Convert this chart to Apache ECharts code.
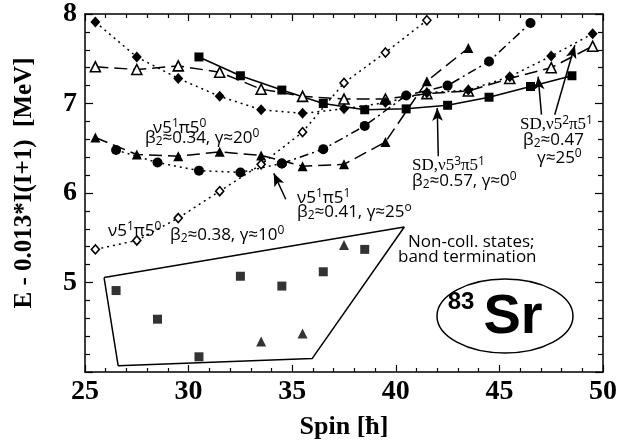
<!DOCTYPE html>
<html>
<head>
<meta charset="utf-8">
<script src="https://cdn.jsdelivr.net/npm/echarts@6/dist/echarts.min.js"></script>
<style>
html, body { margin: 0; padding: 0; background: #fff; }
#chart { width: 631px; height: 445px; }
</style>
</head>
<body>
<div id="chart"></div>
<script>
// values: spin (hbar) / E - 0.013*I(I+1) (MeV)
const sdSpins = [30.5, 32.5, 34.5, 36.5, 38.5, 40.5, 42.5, 44.5, 46.5, 48.5]
const sdEnergy = [7.52, 7.31, 7.15, 7.00, 6.93, 6.94, 6.98, 7.07, 7.19, 7.31]

const openTriSpins = [25.5, 27.5, 29.5, 31.5, 33.5, 35.5, 37.5, 39.5, 41.5, 43.5, 45.5, 47.5, 49.5]
const openTriEnergy = [7.41, 7.38, 7.42, 7.35, 7.16, 7.08, 7.05, 7.05, 7.11, 7.14, 7.28, 7.40, 7.64]

const diamondSpins = [25.5, 27.5, 29.5, 31.5, 33.5, 35.5, 37.5, 39.5, 41.5, 43.5, 45.5, 47.5, 49.5]
const diamondEnergy = [7.91, 7.52, 7.28, 7.08, 6.93, 6.89, 6.94, 7.01, 7.12, 7.15, 7.30, 7.53, 7.78]

const openDiamondSpins = [25.5, 27.5, 29.5, 31.5, 33.5, 35.5, 37.5, 39.5, 41.5]
const openDiamondEnergy = [5.37, 5.47, 5.72, 6.02, 6.32, 6.68, 7.23, 7.57, 7.93]

const filledTriSpins = [25.5, 27.5, 29.5, 31.5, 33.5, 35.5, 37.5, 39.5, 41.5, 43.5]
const filledTriEnergy = [6.62, 6.43, 6.41, 6.46, 6.42, 6.30, 6.32, 6.57, 7.25, 7.62]

const circleLowSpins = [26.5, 28.5, 30.5, 32.5, 34.5]
const circleLowEnergy = [6.48, 6.34, 6.25, 6.23, 6.33]
const circleUpSpins = [34.5, 36.5, 38.5, 40.5, 42.5, 44.5, 46.5]
const circleUpEnergy = [6.33, 6.49, 6.75, 7.09, 7.20, 7.47, 7.90]

// non-collective states
const nonCollSquareSpins = [26.5, 28.5, 30.5, 32.5, 34.5, 36.5, 38.5]
const nonCollSquareEnergy = [4.91, 4.59, 4.17, 5.07, 4.96, 5.12, 5.37]
const nonCollTriSpins = [33.5, 35.5, 37.5]
const nonCollTriEnergy = [4.34, 4.43, 5.42]

const xTicks = [25, 30, 35, 40, 45, 50]
const yTickLabels = [5, 6, 7, 8]

const zip = (xs, ys) => xs.map((x, i) => [x, ys[i]])

const SERIF = '"Liberation Serif", "DejaVu Serif", serif'
const SANS = '"Open Sans", "DejaVu Sans", sans-serif'

const chart = echarts.init(document.getElementById('chart'))

function band(data, symbol, size, open, dash) {
  return {
    type: 'line',
    data: data,
    symbol: symbol,
    symbolSize: size,
    showSymbol: true,
    animation: false,
    lineStyle: { color: '#000', width: 1.5, type: dash },
    itemStyle: open
      ? { color: '#fff', borderColor: '#000', borderWidth: 1.6 }
      : { color: '#000', borderColor: '#000', borderWidth: 0 },
    z: 3,
  }
}

function points(data, symbol, size) {
  return {
    type: 'scatter',
    data: data,
    symbol: symbol,
    symbolSize: size,
    animation: false,
    itemStyle: { color: '#000' },
    z: 3,
  }
}

const rich = {
  n: { fontSize: 17, fontFamily: SANS, lineHeight: 20, fill: '#000', color: '#000' },
  s: { fontSize: 17, fontFamily: SERIF, lineHeight: 20, fill: '#000', color: '#000' },
  p: { fontSize: 12, fontFamily: SANS, lineHeight: 8, verticalAlign: 'top', fill: '#000', color: '#000' },
  b: { fontSize: 12, fontFamily: SANS, lineHeight: 8, verticalAlign: 'bottom', fill: '#000', color: '#000' },
}

function note(x, y, text) {
  return {
    type: 'text',
    x: x,
    y: y,
    z: 10,
    style: { text: text, rich: rich, fill: '#000', align: 'left', verticalAlign: 'top', textAlign: 'left', textVerticalAlign: 'top' },
  }
}

const axisCommon = {
  axisLine: { show: true, onZero: false, lineStyle: { color: '#000', width: 1.5 } },
  splitLine: { show: false },
}

const option = {
  animation: false,
  backgroundColor: '#fff',
  grid: { left: 85, right: 28, top: 14, bottom: 72, containLabel: false },
  xAxis: [
    Object.assign({}, axisCommon, {
      type: 'value', min: 25, max: 50, interval: 5, position: 'bottom',
      axisTick: { inside: true, length: 7, lineStyle: { color: '#000', width: 1.2 } },
      minorTick: { show: true, splitNumber: 5, length: 4, lineStyle: { color: '#000', width: 1.2 } },
      axisLabel: {
        color: '#000', fontFamily: SERIF, fontWeight: 'bold', fontSize: 28, margin: 6,
        formatter: v => (xTicks.includes(v) ? String(v) : ''),
      },
      name: 'Spin [ħ]', nameLocation: 'middle', nameGap: 42,
      nameTextStyle: { color: '#000', fontFamily: SERIF, fontWeight: 'bold', fontSize: 26 },
    }),
    Object.assign({}, axisCommon, {
      type: 'value', min: 25, max: 50, interval: 5, position: 'top',
      axisTick: { inside: true, length: 7, lineStyle: { color: '#000', width: 1.2 } },
      minorTick: { show: true, splitNumber: 5, length: 4, lineStyle: { color: '#000', width: 1.2 } },
      axisLabel: { show: false },
    }),
  ],
  yAxis: [
    Object.assign({}, axisCommon, {
      type: 'value', min: 4, max: 8, interval: 1, position: 'left',
      axisTick: { inside: true, length: 8, lineStyle: { color: '#000', width: 1.2 } },
      minorTick: { show: true, splitNumber: 5, length: 5, lineStyle: { color: '#000', width: 1.2 } },
      axisLabel: {
        color: '#000', fontFamily: SERIF, fontWeight: 'bold', fontSize: 28, margin: 8,
        padding: [8, 0, 0, 0],
        formatter: v => (yTickLabels.includes(v) ? String(v) : ''),
      },
      name: 'E - 0.013*I(I+1)  [MeV]', nameLocation: 'middle', nameGap: 48, nameRotate: 90,
      nameTextStyle: { color: '#000', fontFamily: SERIF, fontWeight: 'bold', fontSize: 25, padding: [0, 0, 0, 20] },
    }),
    Object.assign({}, axisCommon, {
      type: 'value', min: 4, max: 8, interval: 1, position: 'right',
      axisTick: { inside: true, length: 8, lineStyle: { color: '#000', width: 1.2 } },
      minorTick: { show: true, splitNumber: 5, length: 5, lineStyle: { color: '#000', width: 1.2 } },
      axisLabel: { show: false },
    }),
  ],
  series: [
    band(zip(sdSpins, sdEnergy), 'rect', 9, false, 'solid'),
    band(zip(openTriSpins, openTriEnergy), 'triangle', 10, true, [13, 6]),
    band(zip(diamondSpins, diamondEnergy), 'diamond', [10, 11], false, [2, 4]),
    band(zip(openDiamondSpins, openDiamondEnergy), 'diamond', [8, 9], true, [2, 4]),
    band(zip(filledTriSpins, filledTriEnergy), 'triangle', 10, false, [13, 6]),
    band(zip(circleLowSpins, circleLowEnergy), 'circle', 10, false, [2, 4]),
    band(zip(circleUpSpins, circleUpEnergy), 'circle', 10, false, [9, 4, 2, 4]),
    points(zip(nonCollSquareSpins, nonCollSquareEnergy), 'rect', 9),
    points(zip(nonCollTriSpins, nonCollTriEnergy), 'triangle', 10),
    {
      // termination region outline and arrows
      type: 'line',
      data: [[25.92, 5.055], [26.6, 4.07], [35.96, 4.15], [40.41, 5.62], [25.92, 5.055]],
      symbol: 'none',
      animation: false,
      lineStyle: { color: '#000', width: 1.5 },
      z: 2,
      markLine: {
        silent: true,
        animation: false,
        symbol: ['none', 'arrow'],
        symbolSize: [8, 13],
        label: { show: false },
        lineStyle: { color: '#000', width: 1.5, type: 'solid' },
        data: [
          [{ coord: [34.69, 5.93] }, { coord: [34.11, 6.22] }],
          [{ coord: [42.05, 6.41] }, { coord: [42.0, 6.95] }],
          [{ coord: [47.03, 6.875] }, { coord: [46.87, 7.30] }],
          [{ coord: [47.67, 6.875] }, { coord: [48.64, 7.65] }],
        ],
      },
    },
  ],
  graphic: [
    note(153, 118, '{n|ν5}{p|1}{n|π5}{p|0}'),
    note(145, 128, '{n|β}{b|2}{n|≈0.34, γ≈20}{p|0}'),
    note(108, 221, '{n|ν5}{p|1}{n|π5}{p|0}'),
    note(170, 225, '{n|β}{b|2}{n|≈0.38, γ≈10}{p|0}'),
    note(297, 188, '{n|ν5}{p|1}{n|π5}{p|1}'),
    note(297, 202, '{n|β}{b|2}{n|≈0.41, γ≈25}{p|o}'),
    note(412, 156, '{s|SD,ν5}{p|3}{s|π5}{p|1}'),
    note(412, 171, '{n|β}{b|2}{n|≈0.57, γ≈0}{p|0}'),
    note(520, 115, '{s|SD,ν5}{p|2}{s|π5}{p|1}'),
    note(523, 130, '{n|β}{b|2}{n|≈0.47}'),
    note(537, 148, '{n|γ≈25}{p|0}'),
    note(408, 232, '{n|Non-coll. states;}'),
    note(398, 247, '{n|band termination}'),
    {
      type: 'ellipse',
      shape: { cx: 505, cy: 316, rx: 68, ry: 37 },
      style: { fill: 'none', stroke: '#000', lineWidth: 1.5 },
      z: 10,
    },
    {
      type: 'text', x: 461, y: 302, z: 10,
      style: { text: '83', font: 'bold 24px "Liberation Sans", Arial, sans-serif', fill: '#000', align: 'center', verticalAlign: 'middle', textAlign: 'center', textVerticalAlign: 'middle' },
    },
    {
      type: 'text', x: 513, y: 318, z: 10,
      style: { text: 'Sr', font: 'bold 56px "Liberation Sans", Arial, sans-serif', fill: '#000', align: 'center', verticalAlign: 'middle', textAlign: 'center', textVerticalAlign: 'middle' },
    },
  ],
}

chart.setOption(option)
</script>
</body>
</html>
